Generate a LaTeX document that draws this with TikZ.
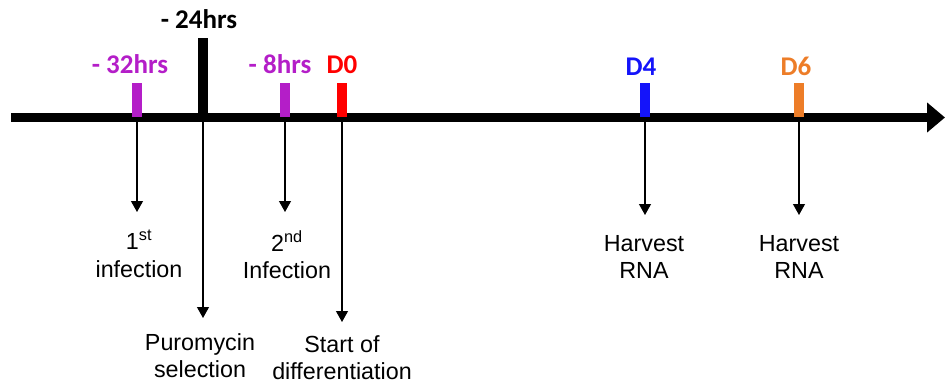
\documentclass[tikz,border=0pt]{standalone}
\usepackage{fontspec}
\setmainfont{Liberation Sans}
\newfontfamily\labelfont{Carlito}
\usetikzlibrary{arrows.meta}

\definecolor{tlpurple}{RGB}{180,30,200}
\definecolor{tlred}{RGB}{255,0,0}
\definecolor{tlblue}{RGB}{20,20,250}
\definecolor{tlorange}{RGB}{237,125,40}

\tikzset{
  tickbar/.style={rectangle, fill=#1, draw=none, inner sep=0pt,
                  minimum width=10pt, minimum height=34pt},
  timelabel/.style={text=#1, font=\labelfont\bfseries\fontsize{27}{32}\selectfont,
                    inner sep=0pt, anchor=base},
  eventtext/.style={font=\fontsize{23.3}{27.5}\selectfont, align=center,
                    inner sep=0pt, anchor=north},
  eventarrow/.style={line width=1.2pt, -{Triangle[length=11pt,width=12pt]}},
}

\begin{document}
\begin{tikzpicture}[x=1pt,y=-1pt]
\useasboundingbox (0,0) rectangle (946,388);

% main time axis
\coordinate (axL) at (11,117.5);
\coordinate (axR) at (945,117.5);
\draw[line width=9pt, -{Triangle[length=18pt,width=29pt]}] (axL) -- (axR);

% time points
\node[tickbar=tlpurple] (t32) at (137,100) {};
\node[rectangle, fill=black, inner sep=0pt, minimum width=10pt, minimum height=79pt] (t24) at (203,77.5) {};
\node[tickbar=tlpurple] (t8) at (285,100) {};
\node[tickbar=tlred] (d0) at (342,100) {};
\node[tickbar=tlblue] (d4) at (645,100) {};
\node[tickbar=tlorange] (d6) at (799,100) {};

% time point labels
\node[timelabel=tlpurple] (l32) at (130,73) {- 32hrs};
\node[timelabel=black] (l24) at (199,28) {- 24hrs};
\node[timelabel=tlpurple] (l8) at (280,73) {- 8hrs};
\node[timelabel=tlred] (l0) at (342,73) {D0};
\node[timelabel=tlblue] (l4) at (641,75) {D4};
\node[timelabel=tlorange] (l6) at (796,75) {D6};

% event descriptions
\node[eventtext] (e1) at (139,230) {1\textsuperscript{st}\\infection};
\node[eventtext] (e2) at (200,333) {Puromycin\\selection};
\node[eventtext] (e3) at (287,230) {2\textsuperscript{nd}\\Infection};
\node[eventtext] (e4) at (342,335) {Start of\\differentiation};
\node[eventtext] (e5) at (644,235) {Harvest\\RNA};
\node[eventtext] (e6) at (799,235) {Harvest\\RNA};

% arrow tips
\coordinate (a1) at (137,212);
\coordinate (a2) at (203,318);
\coordinate (a3) at (285,212);
\coordinate (a4) at (342,322);
\coordinate (a5) at (645,215);
\coordinate (a6) at (799,215);

\draw[eventarrow] (t32.south) -- (a1);
\draw[eventarrow] (t24.south) -- (a2);
\draw[eventarrow] (t8.south) -- (a3);
\draw[eventarrow] (d0.south) -- (a4);
\draw[eventarrow] (d4.south) -- (a5);
\draw[eventarrow] (d6.south) -- (a6);
\end{tikzpicture}
\end{document}
